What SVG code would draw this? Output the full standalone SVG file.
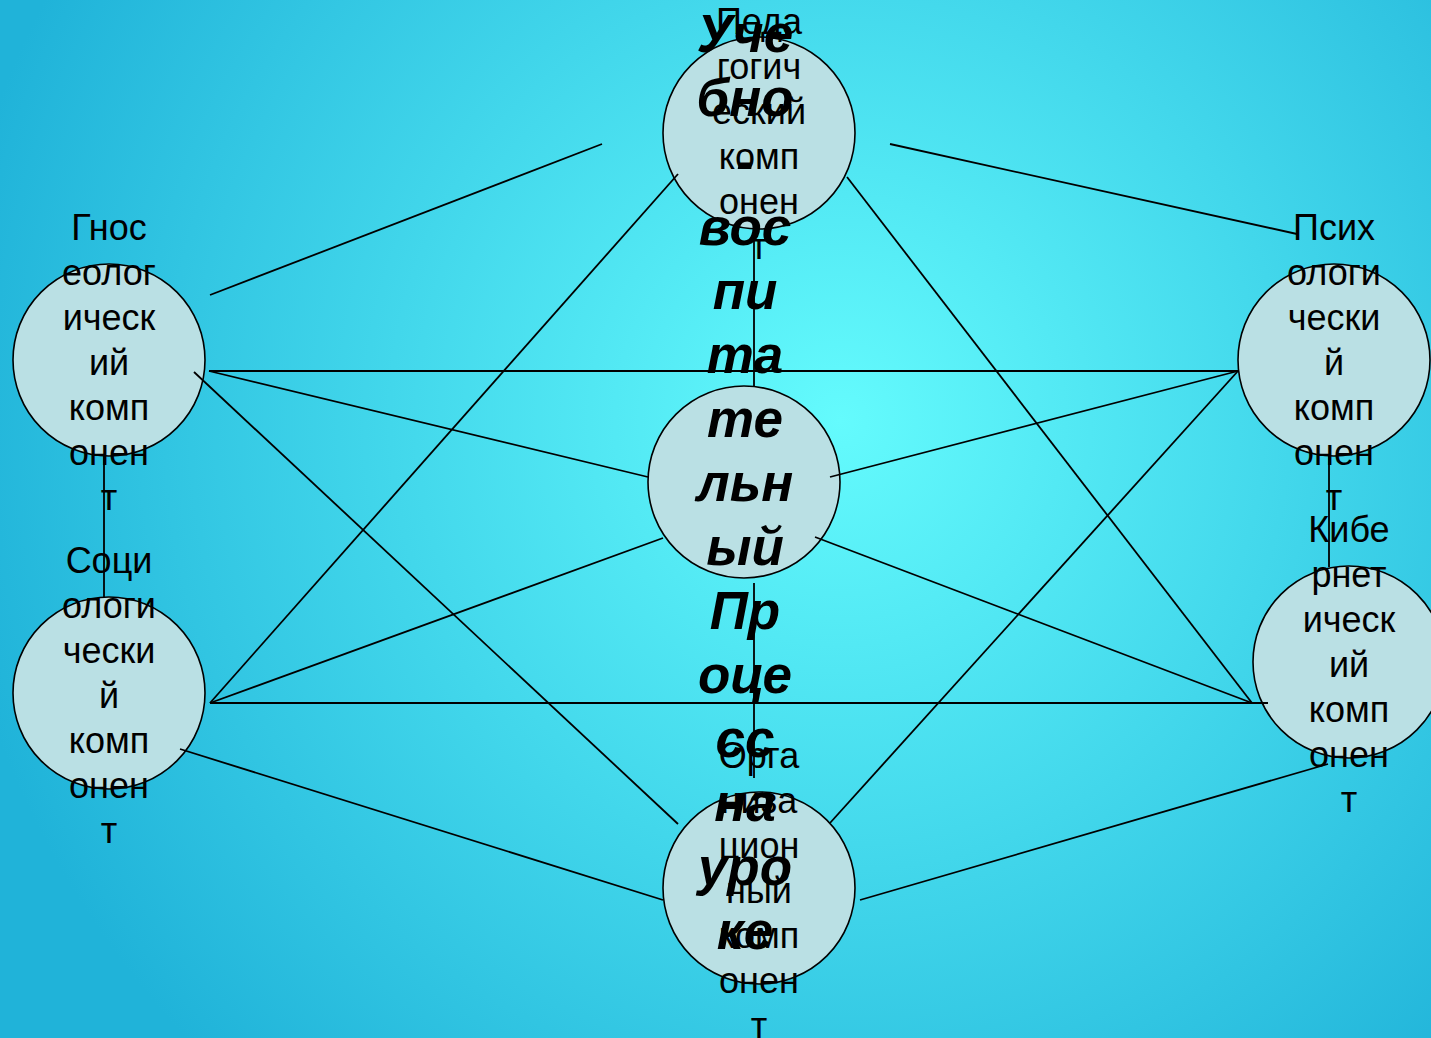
<svg xmlns="http://www.w3.org/2000/svg" width="1431" height="1038" viewBox="0 0 1431 1038">
<defs>
<radialGradient id="bg" gradientUnits="userSpaceOnUse" cx="840" cy="420" r="900">
<stop offset="0" stop-color="#64fbfd"/>
<stop offset="1" stop-color="#20b3d9"/>
</radialGradient>
</defs>
<style>
.node circle{fill:#bae0e4;stroke:#000;stroke-width:1.6}
.lbl{font-family:"Liberation Sans",Arial,sans-serif;font-size:36px;fill:#000;text-anchor:middle}
.big{font-family:"Liberation Sans",Arial,sans-serif;font-size:53px;font-weight:bold;font-style:italic;fill:#000;text-anchor:middle}
#connectors line{stroke:#000;stroke-width:1.8}
</style>
<rect x="0" y="0" width="1431" height="1038" fill="url(#bg)"/>
<g id="node-top" class="node"><circle cx="759" cy="133" r="96"/></g>
<g id="node-left-upper" class="node"><circle cx="109" cy="360" r="96"/></g>
<g id="node-left-lower" class="node"><circle cx="109" cy="693" r="96"/></g>
<g id="node-right-upper" class="node"><circle cx="1334" cy="360" r="96"/></g>
<g id="node-right-lower" class="node"><circle cx="1349" cy="662" r="96"/></g>
<g id="node-center" class="node"><circle cx="744" cy="482" r="96"/></g>
<g id="node-bottom" class="node"><circle cx="759" cy="888" r="96"/></g>
<g id="connectors">
<line x1="210" y1="295" x2="602" y2="144"/>
<line x1="890" y1="144" x2="1297" y2="234"/>
<line x1="754" y1="232" x2="754" y2="386"/>
<line x1="754" y1="583" x2="754" y2="778"/>
<line x1="104" y1="454" x2="104" y2="597"/>
<line x1="1329" y1="456" x2="1329" y2="567"/>
<line x1="209" y1="371" x2="1238" y2="371"/>
<line x1="209" y1="371" x2="648" y2="477"/>
<line x1="1238" y1="371" x2="830" y2="477"/>
<line x1="194" y1="372" x2="678" y2="824"/>
<line x1="678" y1="174" x2="210" y2="703"/>
<line x1="847" y1="177" x2="1252" y2="703"/>
<line x1="210" y1="703" x2="1268" y2="703"/>
<line x1="210" y1="703" x2="663" y2="538"/>
<line x1="815" y1="537" x2="1252" y2="703"/>
<line x1="1238" y1="371" x2="830" y2="823"/>
<line x1="180" y1="749" x2="663" y2="900"/>
<line x1="860" y1="900" x2="1328" y2="764"/>
</g>
<g id="labels">
<text class="lbl"><tspan x="759" y="34">Педа</tspan><tspan x="759" y="79">гогич</tspan><tspan x="759" y="124">еский</tspan><tspan x="759" y="169">комп</tspan><tspan x="759" y="214">онен</tspan><tspan x="759" y="259">т</tspan></text>
<text class="lbl"><tspan x="109" y="240">Гнос</tspan><tspan x="109" y="285">еолог</tspan><tspan x="109" y="330">ическ</tspan><tspan x="109" y="375">ий</tspan><tspan x="109" y="420">комп</tspan><tspan x="109" y="465">онен</tspan><tspan x="109" y="510">т</tspan></text>
<text class="lbl"><tspan x="109" y="573">Соци</tspan><tspan x="109" y="618">ологи</tspan><tspan x="109" y="663">чески</tspan><tspan x="109" y="708">й</tspan><tspan x="109" y="753">комп</tspan><tspan x="109" y="798">онен</tspan><tspan x="109" y="843">т</tspan></text>
<text class="lbl"><tspan x="1334" y="240">Псих</tspan><tspan x="1334" y="285">ологи</tspan><tspan x="1334" y="330">чески</tspan><tspan x="1334" y="375">й</tspan><tspan x="1334" y="420">комп</tspan><tspan x="1334" y="465">онен</tspan><tspan x="1334" y="510">т</tspan></text>
<text class="lbl"><tspan x="1349" y="542">Кибе</tspan><tspan x="1349" y="587">рнет</tspan><tspan x="1349" y="632">ическ</tspan><tspan x="1349" y="677">ий</tspan><tspan x="1349" y="722">комп</tspan><tspan x="1349" y="767">онен</tspan><tspan x="1349" y="812">т</tspan></text>
<text class="lbl"><tspan x="759" y="768">Орга</tspan><tspan x="759" y="813">низа</tspan><tspan x="759" y="858">цион</tspan><tspan x="759" y="903">ный</tspan><tspan x="759" y="948">комп</tspan><tspan x="759" y="993">онен</tspan><tspan x="759" y="1038">т</tspan></text>
<text class="big"><tspan x="745" y="52">Уче</tspan><tspan x="745" y="116">бно</tspan><tspan x="745" y="180">-</tspan><tspan x="745" y="245">вос</tspan><tspan x="745" y="309">пи</tspan><tspan x="745" y="373">та</tspan><tspan x="745" y="437">те</tspan><tspan x="745" y="501">льн</tspan><tspan x="745" y="565">ый</tspan><tspan x="745" y="629">Пр</tspan><tspan x="745" y="693">оце</tspan><tspan x="745" y="757">сс</tspan><tspan x="745" y="821">на</tspan><tspan x="745" y="885">уро</tspan><tspan x="745" y="949">ке</tspan></text>
</g>
</svg>
